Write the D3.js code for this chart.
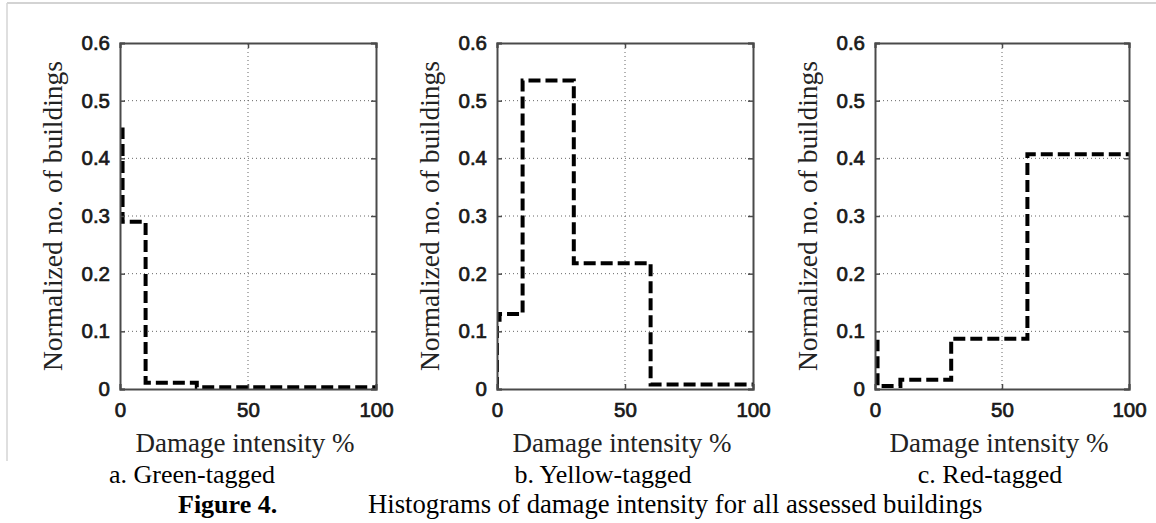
<!DOCTYPE html>
<html>
<head>
<meta charset="utf-8">
<script src="https://cdn.jsdelivr.net/npm/d3@7/dist/d3.min.js"></script>
<style>
  html, body { margin: 0; padding: 0; background: #fff; }
  svg { display: block; }
</style>
</head>
<body>
<svg id="chart" width="1156" height="523"></svg>
<script>
// ---------- data ----------
const panelIds = ["a", "b", "c"];
const panelCaptions = ["a. Green-tagged", "b. Yellow-tagged", "c. Red-tagged"];
const xTicks = [0, 50, 100];
const yTicks = [0, 0.1, 0.2, 0.3, 0.4, 0.5, 0.6];
const yTickLabels = ["0", "0.1", "0.2", "0.3", "0.4", "0.5", "0.6"];
const xTickLabels = ["0", "50", "100"];
// stair-step series (damage intensity %, normalized no. of buildings)
const greenX = [0, 1, 10, 30, 60, 100];
const greenY = [0.45, 0.29, 0.011, 0.003, 0.003, 0.003];
const yellowX = [0, 0, 1, 10, 30, 60, 100];
const yellowY = [0, 0.12, 0.13, 0.535, 0.218, 0.008, 0.008];
const redX = [0, 1, 10, 30, 60, 100];
const redY = [0.082, 0.005, 0.016, 0.087, 0.407, 0.407];
const yLabel = "Normalized no. of buildings";
const xLabel = "Damage intensity %";
const figureLabel = "Figure 4.";
const figureTitle = "Histograms of damage intensity for all assessed buildings";

// ---------- layout ----------
const seriesX = [greenX, yellowX, redX];
const seriesY = [greenY, yellowY, redY];
const plotLeft = [120, 497, 875];
const plotWidth = [256, 256, 254];
const plotTop = 43, plotBottom = 389;
const captionX = [192, 603, 990];

const svg = d3.select("#chart");

// faint border of the original figure image
svg.append("line").attr("x1", 7).attr("y1", 3).attr("x2", 1156).attr("y2", 3)
  .attr("stroke", "#c4c4c4").attr("stroke-width", 1.5);
svg.append("line").attr("x1", 7).attr("y1", 3).attr("x2", 7).attr("y2", 461)
  .attr("stroke", "#d4d4d4").attr("stroke-width", 1.5);

const y = d3.scaleLinear().domain([0, 0.6]).range([plotBottom, plotTop]);

panelIds.forEach((id, i) => {
  const x = d3.scaleLinear().domain([0, 100]).range([plotLeft[i], plotLeft[i] + plotWidth[i]]);
  const g = svg.append("g").attr("class", "panel-" + id);

  // clip
  const clipId = "clip-" + id;
  svg.append("clipPath").attr("id", clipId).append("rect")
    .attr("x", x(0)).attr("y", y(0.6)).attr("width", x(100) - x(0)).attr("height", y(0) - y(0.6));

  // grid (dotted)
  const grid = g.append("g").attr("class", "grid");
  grid.selectAll("line.h").data(yTicks.slice(1, -1)).join("line")
    .attr("class", "h")
    .attr("x1", x(0)).attr("x2", x(100))
    .attr("y1", d => y(d)).attr("y2", d => y(d))
    .attr("stroke", "#666").attr("stroke-width", 1).attr("stroke-dasharray", "1,3");
  grid.selectAll("line.v").data(xTicks.slice(1, -1)).join("line")
    .attr("class", "v")
    .attr("y1", y(0)).attr("y2", y(0.6))
    .attr("x1", d => x(d)).attr("x2", d => x(d))
    .attr("stroke", "#666").attr("stroke-width", 1).attr("stroke-dasharray", "1,3");

  // series
  const pts = seriesX[i].map((xv, k) => [xv, seriesY[i][k]]);
  const line = d3.line().x(d => x(d[0])).y(d => y(d[1])).curve(d3.curveStepAfter);
  g.append("path").datum(pts)
    .attr("clip-path", "url(#" + clipId + ")")
    .attr("d", line)
    .attr("fill", "none").attr("stroke", "#000").attr("stroke-width", 4)
    .attr("stroke-dasharray", "12,5");

  // axes (ticks inside, MATLAB style)
  const axisColor = "#4a4a4a";
  const left = g.append("g").attr("transform", `translate(${x(0)},0)`)
    .call(d3.axisLeft(y).tickValues(yTicks).tickFormat((d, k) => yTickLabels[k]).tickSize(-5).tickPadding(10));
  const bottom = g.append("g").attr("transform", `translate(0,${y(0)})`)
    .call(d3.axisBottom(x).tickValues(xTicks).tickFormat((d, k) => xTickLabels[k]).tickSize(-5).tickPadding(13));
  const right = g.append("g").attr("transform", `translate(${x(100)},0)`)
    .call(d3.axisRight(y).tickValues(yTicks).tickFormat("").tickSize(-5));
  const top = g.append("g").attr("transform", `translate(0,${y(0.6)})`)
    .call(d3.axisTop(x).tickValues(xTicks).tickFormat("").tickSize(-5));
  [left, bottom, right, top].forEach(a => {
    a.select(".domain").attr("stroke", axisColor).attr("stroke-width", 2);
    a.selectAll(".tick line").attr("stroke", axisColor).attr("stroke-width", 1.5);
    a.selectAll(".tick text").attr("fill", "#1a1a1a")
      .attr("stroke", "#1a1a1a").attr("stroke-width", 0.7)
      .style("font-family", "'Liberation Sans', Arial, sans-serif")
      .style("font-size", "20.5px");
  });

  // axis labels
  g.append("text")
    .attr("transform", `translate(${x(0) - 58},${(y(0) + y(0.6)) / 2}) rotate(-90)`)
    .attr("text-anchor", "middle")
    .style("font-family", "'Liberation Serif', 'Times New Roman', serif")
    .style("font-size", "27.5px").attr("fill", "#222")
    .text(yLabel);
  g.append("text")
    .attr("x", (x(0) + x(100)) / 2 - 3).attr("y", 452)
    .attr("text-anchor", "middle")
    .style("font-family", "'Liberation Serif', 'Times New Roman', serif")
    .style("font-size", "27px").attr("fill", "#222")
    .text(xLabel);

  // caption
  svg.append("text")
    .attr("x", captionX[i]).attr("y", 483)
    .attr("text-anchor", "middle")
    .style("font-family", "'Liberation Serif', 'Times New Roman', serif")
    .style("font-size", "26px").attr("fill", "#000")
    .text(panelCaptions[i]);
});

svg.append("text").attr("x", 178).attr("y", 513)
  .style("font-family", "'Liberation Serif', 'Times New Roman', serif")
  .style("font-size", "26px").style("font-weight", "bold").attr("fill", "#000")
  .text(figureLabel);
svg.append("text").attr("x", 368).attr("y", 513)
  .style("font-family", "'Liberation Serif', 'Times New Roman', serif")
  .style("font-size", "26.7px").attr("fill", "#000")
  .text(figureTitle);
</script>
</body>
</html>
